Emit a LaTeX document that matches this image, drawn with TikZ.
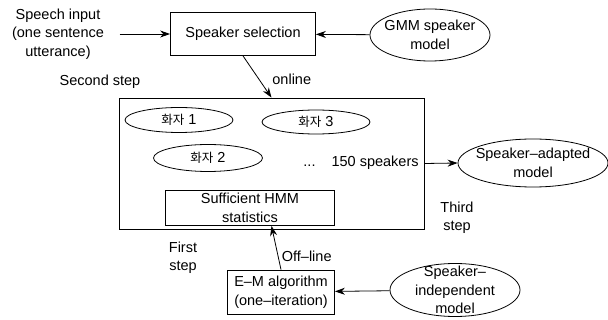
\documentclass[tikz,border=0pt]{standalone}
\usepackage{fontspec}
\setmainfont{Liberation Sans}
\newfontfamily\kr{Noto Sans CJK KR}
\usetikzlibrary{arrows.meta,shapes.geometric}
\begin{document}
\begin{tikzpicture}[x=1pt,y=-1pt,line width=0.8pt,
  font=\fontsize{14.5}{18.5}\selectfont,
  box/.style={draw, rectangle, inner sep=0pt, align=center},
  spk/.style={draw, ellipse, inner sep=0pt},
  model/.style={draw, ellipse, inner sep=0pt},
  txt/.style={align=center},
  arr/.style={-{Stealth[length=10pt,width=7pt]}}]
\useasboundingbox (0,0) rectangle (608,320);
\node(input) at (58,34) [txt]{Speech input\\(one sentence\\utterance)};
\node(sel) at (243,34) [box, minimum width=145, minimum height=43]{Speaker selection};
\node(gmm) at (430,35) [model, minimum width=120, minimum height=52, label={[txt]center:GMM speaker\\model}]{};
\node(second) at (100,82) {Second step};
\node(pool) at (271.5,163.5) [box, minimum width=305, minimum height=131]{};
\node(s1) at (179,120) [spk, minimum width=108, minimum height=25]{{\kr\fontsize{12.5}{14}\selectfont 화자} 1};
\node(s3) at (316,122) [spk, minimum width=108, minimum height=24]{{\kr\fontsize{12.5}{14}\selectfont 화자} 3};
\node(s2) at (208,158) [spk, minimum width=109, minimum height=27]{{\kr\fontsize{12.5}{14}\selectfont 화자} 2};
\node(many) at (419,163) [anchor=east, inner sep=0pt]{...\hspace{16pt}150 speakers};
\node(stats) at (250,208) [box, minimum width=169, minimum height=35]{Sufficient HMM\\statistics};
\node(adapt) at (533,163) [model, minimum width=150, minimum height=48, label={[txt]center:Speaker--adapted\\model}]{};
\node(third) at (457,218) [txt]{Third\\step};
\node(first) at (183,258) [txt]{First\\step};
\node(em) at (281,292) [box, minimum width=107, minimum height=44]{E--M algorithm\\(one--iteration)};
\node(indep) at (455,290) [model, minimum width=130, minimum height=53, label={[txt]center:Speaker--\\independent\\model}]{};
\draw[arr, shorten <=12pt] (input.east) to (sel.west);
\draw[arr] (gmm) to (sel);
\draw[arr] (sel.south) to node[pos=0.55, right=10pt]{online} (pool.north);
\draw[arr] (pool.east) to (adapt.west);
\draw[arr] (em.north) to node[pos=0.3, right=0pt]{Off--line} (stats.south -| pool.north);
\draw[arr] (indep) to (em);
\end{tikzpicture}
\end{document}
